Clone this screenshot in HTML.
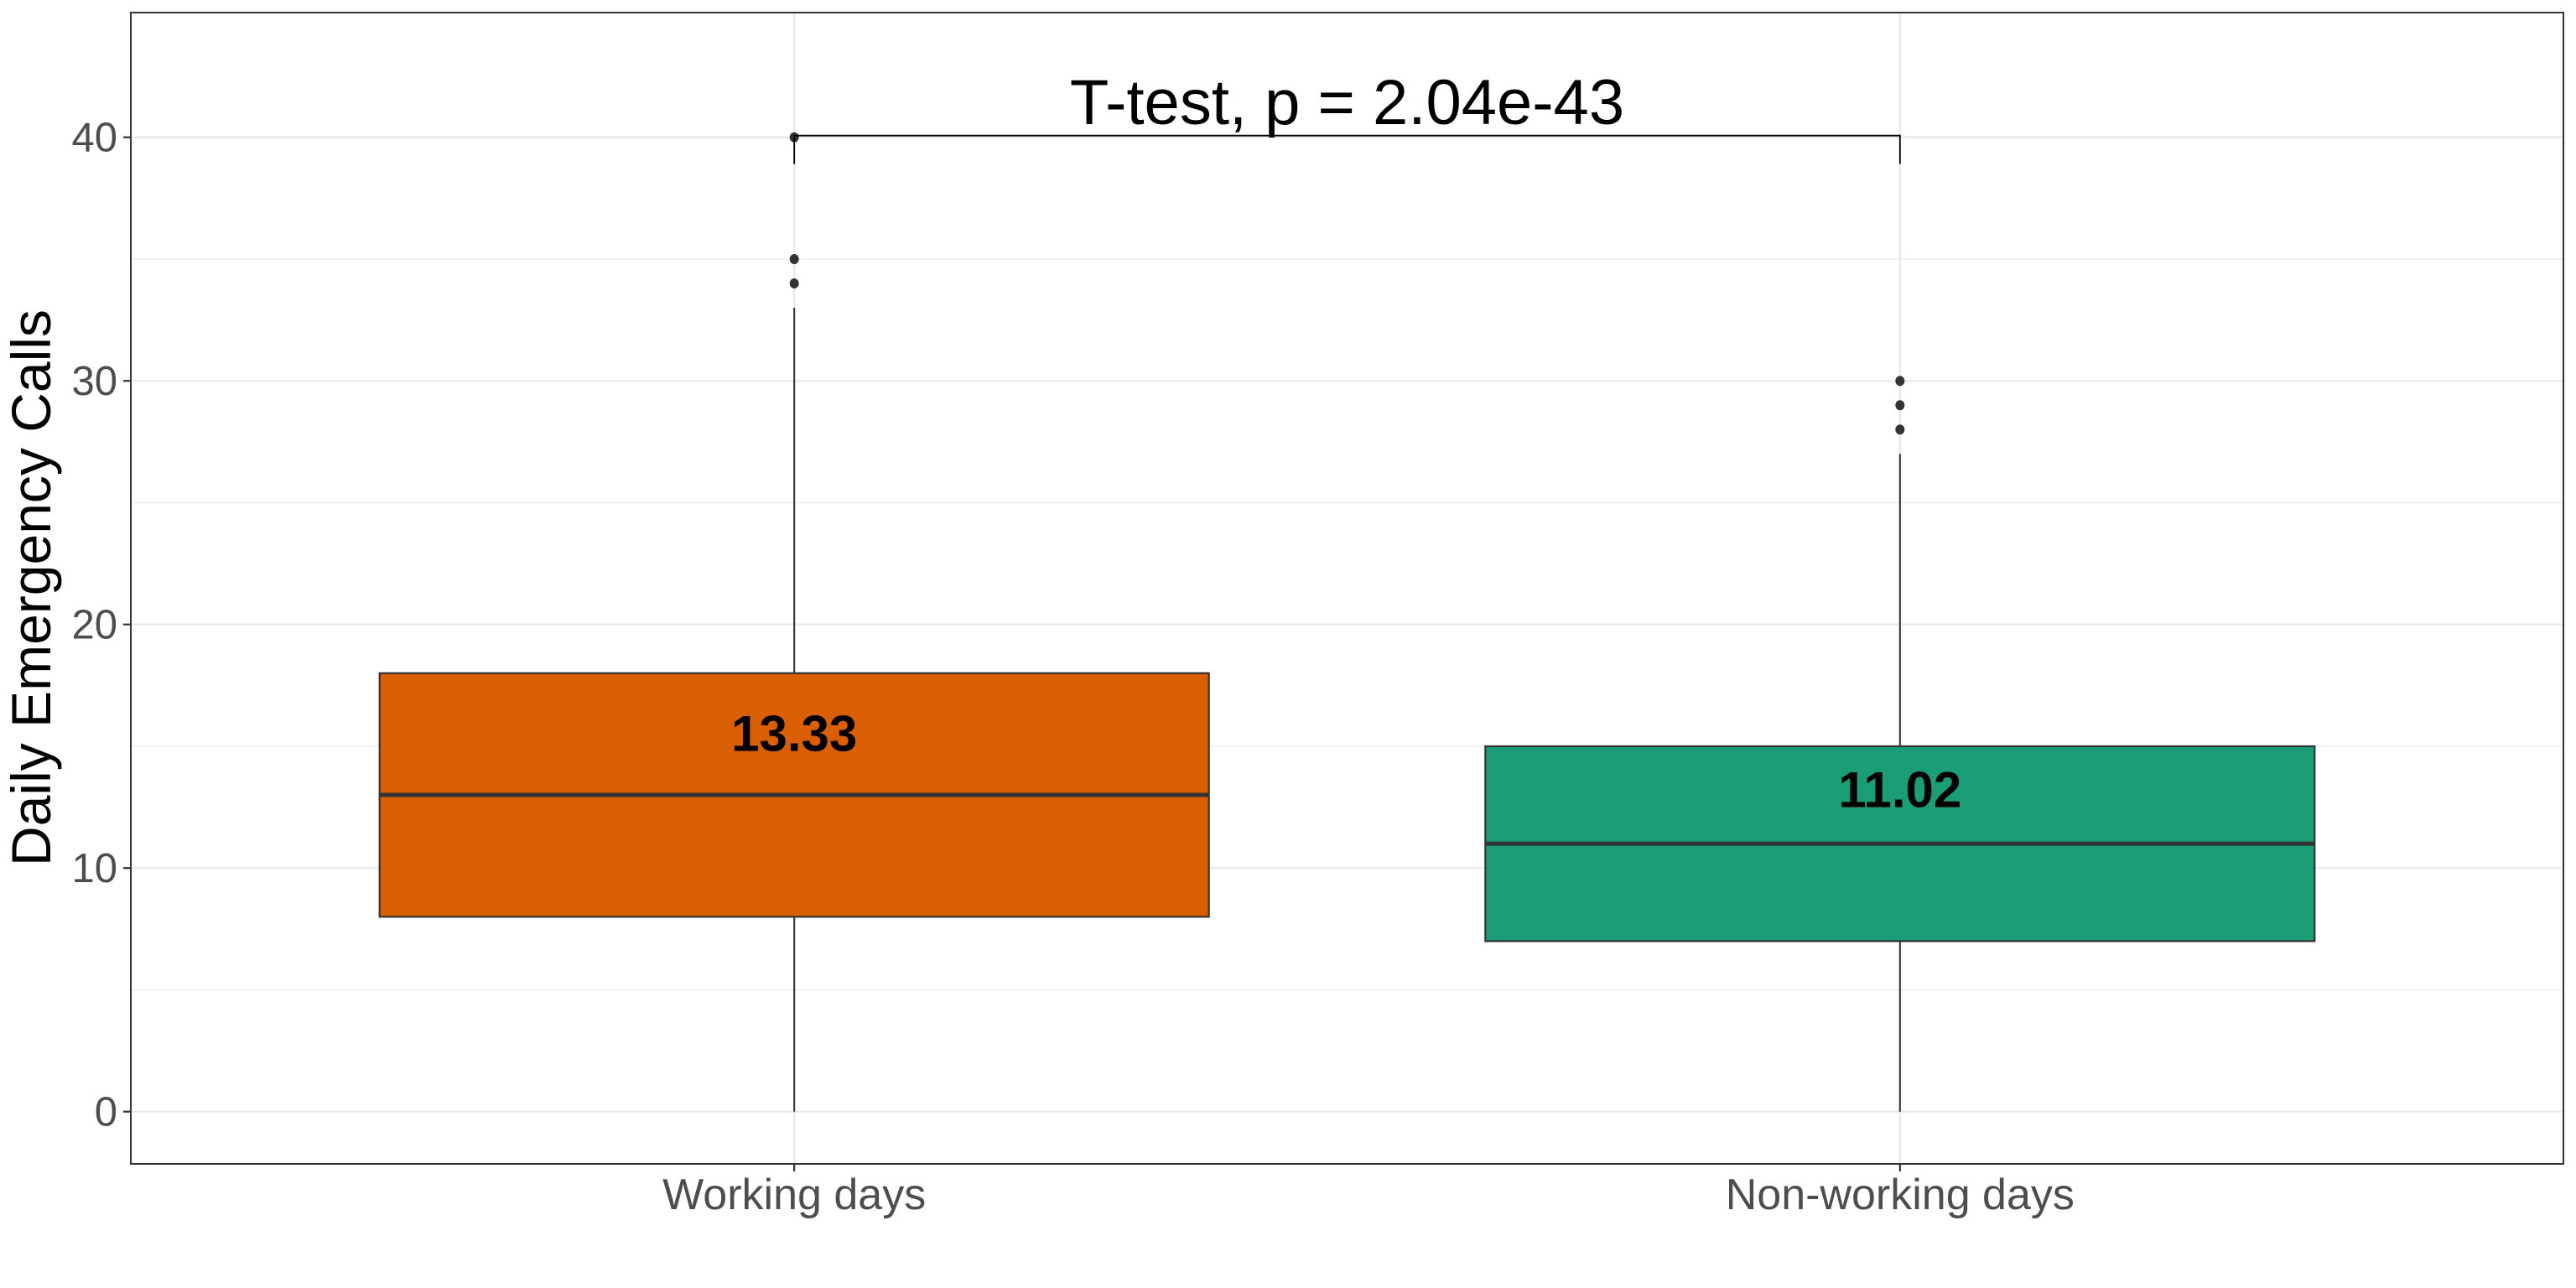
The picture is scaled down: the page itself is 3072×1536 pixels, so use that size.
<!DOCTYPE html>
<html><head><meta charset="utf-8"><style>
html,body{margin:0;padding:0;background:#fff;}
svg{display:block;font-family:"Liberation Sans",sans-serif;}
</style></head><body>
<svg id="chart" width="3072" height="1536" viewBox="0 0 3072 1536" xmlns="http://www.w3.org/2000/svg">
<rect x="0" y="0" width="3072" height="1536" fill="#fff"/>
<g id="grid"></g>
<g id="marks"></g>
<g id="axes"></g>
<text x="0" y="0" transform="translate(60,701) rotate(-90)" text-anchor="middle" font-size="66" fill="#000">Daily Emergency Calls</text>
</svg>
<script>
const categories = ["Working days", "Non-working days"];
const q1 = [8, 7];
const medians = [13, 11];
const q3 = [18, 15];
const whiskerLow = [0, 0];
const whiskerHigh = [33, 27];
const outliers = [[34, 35, 40], [28, 29, 30]];
const means = [13.33, 11.02];
const fills = ["#D95F02", "#1B9E77"];
const yTicks = [0, 10, 20, 30, 40];
const yMinor = [5, 15, 25, 35];
const testLabel = "T-test, p = 2.04e-43";
const bracketY = 40.07;
const bracketTickEnd = 38.9;

const NS = "http://www.w3.org/2000/svg";
const P = {l:156, r:3057, t:15, b:1388};
const y0px = 1325.7, perUnit = 29.05;
function yS(v){ return y0px - v*perUnit; }
const unitX = (P.r-P.l)/2.2;
function xS(i){ return P.l + (0.6 + i)*unitX; }
function mk(parent, tag, attrs){
  const e = document.createElementNS(NS, tag);
  for (const k in attrs) e.setAttribute(k, attrs[k]);
  parent.appendChild(e); return e;
}
const grid = document.getElementById('grid');
const marks = document.getElementById('marks');
const axes = document.getElementById('axes');

yMinor.forEach(v=>{
  const l = mk(grid,'line',{x1:P.l,x2:P.r,y1:yS(v),y2:yS(v),stroke:'#ebebeb','stroke-width':1.4});
  
  
});
yTicks.forEach(v=>{
  const l = mk(grid,'line',{x1:P.l,x2:P.r,y1:yS(v),y2:yS(v),stroke:'#ebebeb','stroke-width':2.7});
  
  
});
categories.forEach((c,i)=>{
  const l = mk(grid,'line',{x1:xS(i),x2:xS(i),y1:P.t,y2:P.b,stroke:'#ebebeb','stroke-width':2.7});
  
  
});

categories.forEach((c,i)=>{
  const cx = xS(i), hw = 0.375*unitX;
  const w1 = mk(marks,'line',{x1:cx,x2:cx,y1:yS(q3[i]),y2:yS(whiskerHigh[i]),stroke:'#333','stroke-width':2});
  
  
  const w2 = mk(marks,'line',{x1:cx,x2:cx,y1:yS(q1[i]),y2:yS(whiskerLow[i]),stroke:'#333','stroke-width':2});
  
  
  const b = mk(marks,'rect',{x:cx-hw,y:yS(q3[i]),width:2*hw,height:yS(q1[i])-yS(q3[i]),fill:fills[i],stroke:'#333','stroke-width':2.2});
  
  
  const m = mk(marks,'line',{x1:cx-hw,x2:cx+hw,y1:yS(medians[i]),y2:yS(medians[i]),stroke:'#333','stroke-width':5});
  
  
  outliers[i].forEach(v=>{
    const p = mk(marks,'ellipse',{cx:cx,cy:yS(v),rx:5.5,ry:6,fill:'#333'});
    
    
  });
  const t = mk(marks,'text',{x:cx,y:yS(means[i]+1.48),'text-anchor':'middle','font-size':60,'font-weight':'bold',fill:'#000'});
  t.textContent = means[i].toFixed(2);
  
  
});

const br = mk(marks,'path',{d:`M${xS(0)},${yS(bracketTickEnd)} V${yS(bracketY)} H${xS(1)} V${yS(bracketTickEnd)}`,fill:'none',stroke:'#000','stroke-width':1.8});


const tt = mk(marks,'text',{x:(xS(0)+xS(1))/2,y:148,'text-anchor':'middle','font-size':76,fill:'#000'});
tt.textContent = testLabel;



const pb = mk(axes,'rect',{x:P.l,y:P.t,width:P.r-P.l,height:P.b-P.t,fill:'none',stroke:'#333','stroke-width':2});


yTicks.forEach(v=>{
  const tk = mk(axes,'line',{x1:P.l-9,x2:P.l,y1:yS(v),y2:yS(v),stroke:'#333','stroke-width':2.2});
  
  
  const tl = mk(axes,'text',{x:P.l-16,y:yS(v)+17,'text-anchor':'end','font-size':49,fill:'#4d4d4d'});
  tl.textContent = v;
  
  
});
categories.forEach((c,i)=>{
  const tk = mk(axes,'line',{x1:xS(i),x2:xS(i),y1:P.b,y2:P.b+9,stroke:'#333','stroke-width':2.2});
  
  
  const tl = mk(axes,'text',{x:xS(i),y:1442,'text-anchor':'middle','font-size':52,fill:'#4d4d4d'});
  tl.textContent = c;
  
  
});
</script>
</body></html>
